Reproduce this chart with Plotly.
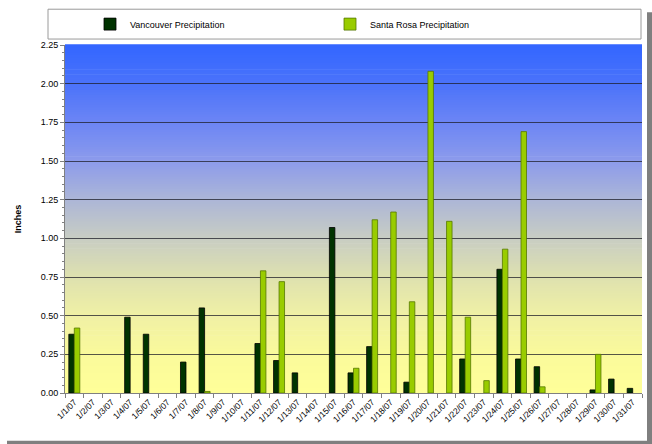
import plotly.graph_objects as go

dates = [f"1/{d}/07" for d in range(1, 32)]
vancouver = [0.38, 0, 0, 0.49, 0.38, 0, 0.20, 0.55, 0, 0, 0.32, 0.21, 0.13, 0, 1.07, 0.13,
             0.30, 0, 0.07, 0, 0, 0.22, 0, 0.80, 0.22, 0.17, 0, 0, 0.02, 0.09, 0.03]
santa_rosa = [0.42, 0, 0, 0, 0, 0, 0, 0.01, 0, 0, 0.79, 0.72, 0, 0, 0, 0.16,
              1.12, 1.17, 0.59, 2.08, 1.11, 0.49, 0.08, 0.93, 1.69, 0.04, 0, 0, 0.25, 0, 0]

FONT = "Liberation Sans, Arial, sans-serif"

fig = go.Figure()
fig.add_trace(go.Bar(x=dates, y=vancouver, name="Vancouver Precipitation",
                     marker=dict(color="#003300",
                                 line=dict(color="#000000",
                                           width=[0.8 if v > 0 else 0 for v in vancouver]))))
fig.add_trace(go.Bar(x=dates, y=santa_rosa, name="Santa Rosa Precipitation",
                     marker=dict(color="#99CC00",
                                 line=dict(color="#557700",
                                           width=[0.8 if v > 0 else 0 for v in santa_rosa]))))

# gradient background
stops = [
    (0.000, (255, 255, 153)),
    (0.111, (250, 250, 155)),
    (0.222, (240, 240, 165)),
    (0.333, (222, 225, 175)),
    (0.444, (200, 205, 195)),
    (0.556, (172, 182, 215)),
    (0.667, (140, 155, 235)),
    (0.778, (108, 133, 245)),
    (0.889, (75, 115, 250)),
    (1.000, (51, 102, 255)),
]

def col(t):
    for (t0, c0), (t1, c1) in zip(stops[:-1], stops[1:]):
        if t0 <= t <= t1:
            f = (t - t0) / (t1 - t0)
            return "rgb(%d,%d,%d)" % tuple(round(a + (b - a) * f) for a, b in zip(c0, c1))
    return "rgb(%d,%d,%d)" % stops[-1][1]

N = 140
shapes = []
for i in range(N):
    shapes.append(dict(type="rect", xref="x domain", yref="y domain",
                       x0=0, x1=1, y0=i / N, y1=(i + 1) / N + 0.002,
                       fillcolor=col((i + 0.5) / N), line=dict(width=0), layer="below"))

W, H = 652, 444
L, R, T, B = 65, 10, 43, 51
pw, ph = W - L - R, H - T - B

def px(x):
    return (x - L) / pw

def py(y):
    return (H - B - y) / ph

# legend box
shapes.append(dict(type="rect", xref="paper", yref="paper",
                   x0=px(48), x1=px(641), y0=py(37), y1=py(7),
                   fillcolor="white", line=dict(color="#9a9a9a", width=1), layer="below"))
# shadow frame
shapes.append(dict(type="rect", xref="paper", yref="paper",
                   x0=px(647), x1=px(653), y0=py(445), y1=py(10),
                   fillcolor="#7f7f7f", line=dict(width=0), layer="below"))
shapes.append(dict(type="rect", xref="paper", yref="paper",
                   x0=px(7), x1=px(653), y0=py(445), y1=py(441),
                   fillcolor="#7f7f7f", line=dict(width=0), layer="below"))

fig.update_layout(
    width=W, height=H,
    margin=dict(l=L, r=R, t=T, b=B),
    paper_bgcolor="white",
    plot_bgcolor="white",
    barmode="group",
    bargap=0.41,
    bargroupgap=0,
    font=dict(family=FONT, size=9, color="#000000"),
    shapes=shapes,
    showlegend=True,
    legend=dict(orientation="h", x=px(90), xanchor="left", y=py(22), yanchor="middle",
                bgcolor="rgba(0,0,0,0)", borderwidth=0, font=dict(size=9),
                entrywidth=195, entrywidthmode="pixels", itemwidth=30),
    xaxis=dict(type="category", tickangle=-45, tickson="boundaries", ticks="outside",
               ticklen=4, tickcolor="#808080", showline=True, linecolor="#808080",
               linewidth=1, showgrid=False, tickfont=dict(size=8.5), automargin=False),
    yaxis=dict(range=[0, 2.25], dtick=0.25, tickformat=".2f", ticks="outside",
               ticklen=4, tickcolor="#808080", showline=True, linecolor="#808080",
               linewidth=1, showgrid=True, gridcolor="rgba(30,30,40,0.75)", gridwidth=1,
               zeroline=False,
               minor=dict(dtick=0.05, ticks="outside", ticklen=2, tickcolor="#808080",
                          showgrid=False),
               title=dict(text="<b>Inches</b>", font=dict(size=9), standoff=17),
               automargin=False),
)

fig.write_html("out.html", config={"displayModeBar": False},
               post_script="document.body.style.margin='0';document.body.style.overflow='hidden';")
